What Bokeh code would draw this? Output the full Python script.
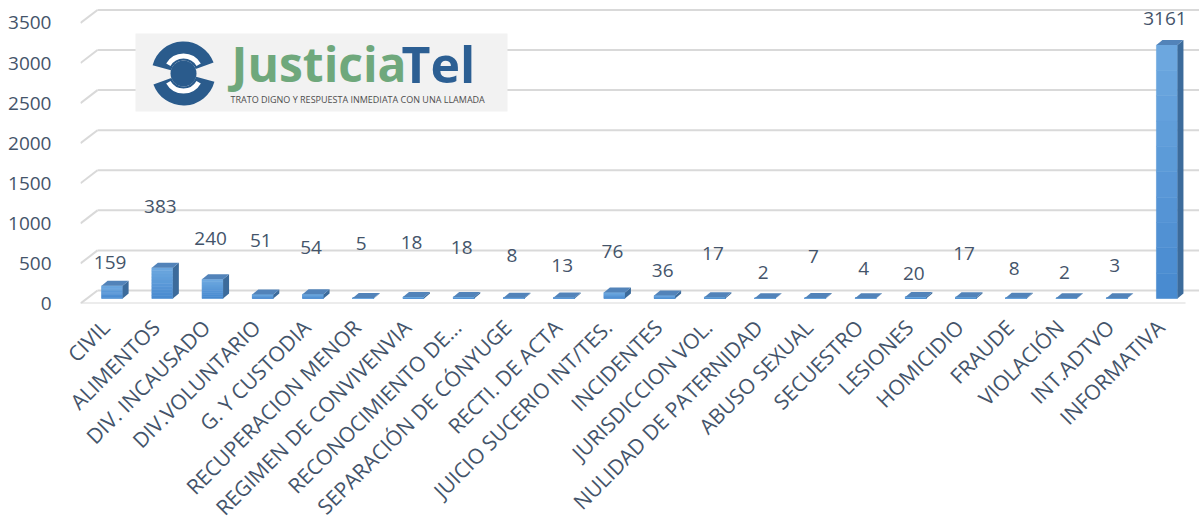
import math
from bokeh.plotting import figure
from bokeh.models import FixedTicker, Range1d, ColumnDataSource
from bokeh.embed import file_html
from bokeh.resources import INLINE
from bokeh.core.properties import value

# ---------------- data ----------------
categories = ["CIVIL", "ALIMENTOS", "DIV. INCAUSADO", "DIV.VOLUNTARIO", "G. Y CUSTODIA",
              "RECUPERACION MENOR", "REGIMEN DE CONVIVENVIA", "RECONOCIMIENTO DE...",
              "SEPARACIÓN DE CÓNYUGE", "RECTI. DE ACTA", "JUICIO SUCERIO INT/TES.",
              "INCIDENTES", "JURISDICCION VOL.", "NULIDAD DE PATERNIDAD", "ABUSO SEXUAL",
              "SECUESTRO", "LESIONES", "HOMICIDIO", "FRAUDE", "VIOLACIÓN", "INT.ADTVO",
              "INFORMATIVA"]
counts = [159, 383, 240, 51, 54, 5, 18, 18, 8, 13, 76, 36, 17, 2, 7, 4, 20, 17, 8, 2, 3, 3161]
y_ticks = [0, 500, 1000, 1500, 2000, 2500, 3000, 3500]

# label lift above the bar top (pixels) - styling only
label_lift = [23, 61, 41, 54, 47, 55, 55, 50, 42, 32, 41, 25, 44, 26, 41, 30, 23, 44, 29, 26, 33, 27]

# ---------------- geometry / style ----------------
BL, BT = 80, 8             # left / top border
FW, FH = 1119, 295         # frame size
Y_END = 3680.0
PXY = FH / Y_END           # px per value unit
PXX = 50.23                # px per category
X_START = -0.5
X_END = X_START + FW / PXX

def dxu(px):
    return px / PXX

def dyu(px):
    return px / PXY

TEXT = "#44546A"
GRID = "#D9D9D9"
FONT = value("Open Sans")

p = figure(frame_width=FW, frame_height=FH, x_range=Range1d(X_START, X_END),
           y_range=Range1d(0, Y_END),
           output_backend="svg", toolbar_location=None,
           min_border_left=BL, min_border_right=0, min_border_top=BT, min_border_bottom=0)
p.outline_line_color = None
p.grid.visible = False
p.background_fill_color = "white"
p.border_fill_color = "white"

# axes
p.yaxis.ticker = FixedTicker(ticks=y_ticks)
p.yaxis.axis_line_color = None
p.yaxis.major_tick_line_color = None
p.yaxis.minor_tick_line_color = None
p.yaxis.major_label_standoff = 23
p.yaxis.major_label_text_font = "Open Sans"
p.yaxis.major_label_text_font_size = "19px"
p.yaxis.major_label_text_color = TEXT

p.xaxis.ticker = FixedTicker(ticks=list(range(len(categories))))
p.xaxis.major_label_overrides = {i: c for i, c in enumerate(categories)}
p.xaxis.major_label_orientation = math.pi / 4
p.xaxis.axis_line_color = None
p.xaxis.major_tick_line_color = None
p.xaxis.minor_tick_line_color = None
p.xaxis.major_label_standoff = 14
p.xaxis.major_label_text_font = "Open Sans"
p.xaxis.major_label_text_font_size = "21px"
p.xaxis.major_label_text_color = TEXT

# 3D walls: depth offsets
WALL_DX, WALL_DY = dxu(17), dyu(13)
p.segment(x0=[X_START] * len(y_ticks), y0=y_ticks,
          x1=[X_START + WALL_DX] * len(y_ticks), y1=[t + WALL_DY for t in y_ticks],
          line_color=GRID, line_width=2)
p.segment(x0=[X_START + WALL_DX] * len(y_ticks), y0=[t + WALL_DY for t in y_ticks],
          x1=[X_END] * len(y_ticks), y1=[t + WALL_DY for t in y_ticks],
          line_color=GRID, line_width=2)
p.segment(x0=[X_START], y0=[0], x1=[len(categories) - 0.5], y1=[0],
          line_color=GRID, line_width=2)

# bars
n = len(categories)
FRONT_DX, BASE = dxu(6.5), dyu(5)
HALF = dxu(10.5)
DEP_DX, DEP_DY = dxu(6), dyu(5)
centers = [i + FRONT_DX for i in range(n)]
lefts = [c - HALF for c in centers]
rights = [c + HALF for c in centers]
tops = [BASE + v for v in counts]

side_xs = [[r, r + DEP_DX, r + DEP_DX, r] for r in rights]
side_ys = [[BASE, BASE + DEP_DY, t + DEP_DY, t] for t in tops]
top_xs = [[l, r, r + DEP_DX, l + DEP_DX] for l, r in zip(lefts, rights)]
top_ys = [[t, t, t + DEP_DY, t + DEP_DY] for t in tops]

# front faces with a soft vertical shading (darker at the bottom, lighter at the top)
STEPS = 10
c_bot, c_top = (0x47, 0x89, 0xCF), (0x6E, 0xA9, 0xE0)
for k in range(STEPS):
    f = (k + 0.5) / STEPS
    col = "#%02x%02x%02x" % tuple(int(round(a + (b - a) * f)) for a, b in zip(c_bot, c_top))
    p.quad(left=lefts, right=rights,
           bottom=[BASE + v * k / STEPS for v in counts],
           top=[BASE + v * (k + 1) / STEPS for v in counts],
           fill_color=col, line_color=col, line_width=0.6)
p.patches(xs=side_xs, ys=side_ys, fill_color="#3C6B9B", line_color=None)
p.patches(xs=top_xs, ys=top_ys, fill_color="#5283B9", line_color=None)

# data labels
lab_src = ColumnDataSource(dict(x=centers, y=tops, t=[str(v) for v in counts],
                                off=[-l for l in label_lift]))
p.text(x="x", y="y", text="t", y_offset="off", x_offset=-2, source=lab_src,
       text_font=FONT, text_font_size="19px", text_color=TEXT,
       text_align="center", text_baseline="middle")

# ---------------- logo (decoration) ----------------
def px2x(page_x):
    return X_START + (page_x - BL) / PXX

def px2y(page_y):
    return (FH - (page_y - BT)) / PXY

p.quad(left=[px2x(135)], right=[px2x(507)], top=[px2y(33)], bottom=[px2y(111)],
       fill_color="#F2F2F2", line_color=None)
ICON_BLUE = "#2A5B8C"
cx, cy = px2x(183), px2y(73)
p.annular_wedge(x=[cx, cx], y=[cy, cy], inner_radius=13, outer_radius=32,
                inner_radius_units="screen", outer_radius_units="screen",
                start_angle=[math.radians(20), math.radians(200)],
                end_angle=[math.radians(165), math.radians(345)],
                fill_color=ICON_BLUE, line_color=None)
p.circle(x=[cx], y=[cy], radius=13, radius_units="screen", fill_color=ICON_BLUE, line_color=None)
p.annular_wedge(x=[cx, cx], y=[cy, cy], inner_radius=15, outer_radius=20,
                inner_radius_units="screen", outer_radius_units="screen",
                start_angle=[math.radians(30), math.radians(210)],
                end_angle=[math.radians(150), math.radians(330)],
                fill_color="white", line_color=None)
p.text(x=[px2x(231)], y=[px2y(63)], text=["Justicia"], text_font=FONT,
       text_font_size="48px", text_font_style="bold", text_color="#6FA87C",
       text_align="left", text_baseline="middle")
p.text(x=[px2x(401)], y=[px2y(63)], text=["Tel"], text_font=FONT,
       text_font_size="50px", text_font_style="bold", text_color="#2C5F93",
       text_align="left", text_baseline="middle")
p.text(x=[px2x(230)], y=[px2y(99)], text=["TRATO DIGNO Y RESPUESTA INMEDIATA CON UNA LLAMADA"],
       text_font=FONT, text_font_size="9px", text_color="#4D4D4D",
       text_align="left", text_baseline="middle")

open("out.html", "w").write(file_html(p, INLINE))
